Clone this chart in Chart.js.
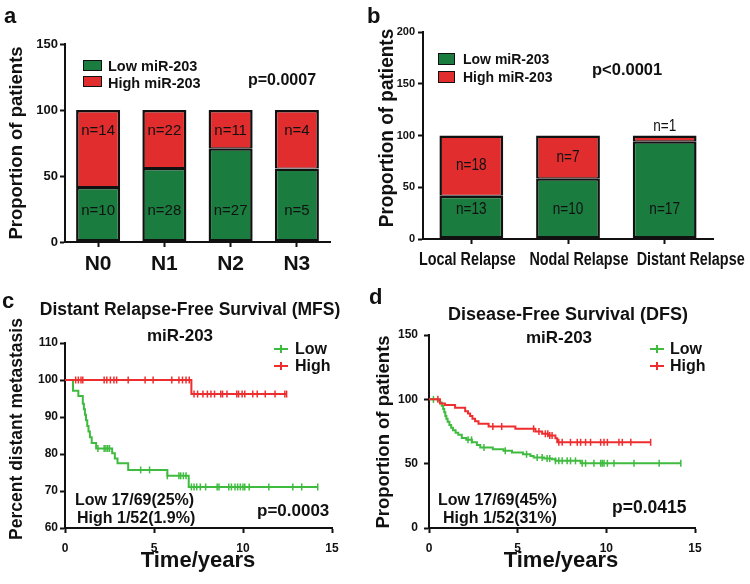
<!DOCTYPE html>
<html><head><meta charset="utf-8">
<script src="https://cdn.jsdelivr.net/npm/chart.js@4.4.1/dist/chart.umd.min.js"></script>
<style>
html,body{margin:0;padding:0;background:#fff;}
body{width:750px;height:584px;position:relative;overflow:hidden;font-family:"Liberation Sans",Arial,sans-serif;}
canvas{position:absolute;}
.t{position:absolute;font-weight:bold;white-space:nowrap;color:#111;line-height:1;}
.lg{position:absolute;height:2px;}
.lg i{position:absolute;left:50%;top:-3px;width:2px;height:8px;margin-left:-1px;background:inherit;}
.bx{position:absolute;border:1.5px solid #111;box-sizing:border-box;}
</style></head><body>
<canvas id="ca" width="375" height="290" style="left:0;top:0"></canvas>
<canvas id="cb" width="375" height="290" style="left:375px;top:0"></canvas>
<canvas id="cc" width="375" height="294" style="left:0;top:290px"></canvas>
<canvas id="cd" width="375" height="294" style="left:375px;top:290px"></canvas>
<script>
// ---------- data ----------
const aCats = ['N0', 'N1', 'N2', 'N3'];
const aLowPct = [41.7, 56.0, 71.1, 55.6];
const aHighPct = [58.3, 44.0, 28.9, 44.4];
const aLowN = [10, 28, 27, 5];
const aHighN = [14, 22, 11, 4];

const bCats = ['Local Relapse', 'Nodal Relapse', 'Distant Relapse'];
const bLowPct = [41.9, 58.8, 94.4];
const bHighPct = [58.1, 41.2, 5.6];
const bLowN = [13, 10, 17];
const bHighN = [18, 7, 1];

// panel c: Distant relapse-free survival (event times / survival after event)
const cLowT = [0.45, 0.75, 1.0, 1.06, 1.12, 1.18, 1.25, 1.32, 1.4, 1.5, 1.75, 2.65, 2.8, 2.95, 3.55, 5.75, 6.95];
const cLowS = [97.1, 95.7, 93.6, 92.1, 90.6, 89.1, 87.6, 86.1, 84.5, 83.0, 81.5, 80.2, 78.8, 77.5, 75.7, 74.1, 71.1];
const cLowCensor = [1.85, 2.2, 2.3, 2.4, 2.5, 4.25, 4.75, 5.75, 6.4, 6.5, 6.65, 6.8, 7.1, 7.25, 7.4, 7.6, 7.9, 8.55, 8.65, 9.2, 9.35, 9.55, 9.7, 9.85, 10.0, 10.1, 10.35, 11.45, 12.8, 13.3];
const cLowEnd = 14.2;
const cHighT = [7.1];
const cHighS = [96.2];
const cHighCensor = [0.6, 0.75, 0.9, 1.0, 2.2, 2.35, 2.55, 2.75, 2.9, 3.55, 4.5, 4.95, 6.0, 6.4, 6.6, 6.8, 6.98, 7.25, 7.45, 7.75, 8.0, 8.2, 8.4, 8.75, 8.85, 9.1, 9.65, 9.75, 9.95, 10.1, 10.55, 10.8, 11.25, 11.8, 12.35];
const cHighEnd = 12.45;

// panel d: Disease-free survival
const dLowT = [0.5, 0.62, 0.72, 0.8, 0.86, 0.92, 0.98, 1.05, 1.15, 1.25, 1.35, 1.5, 1.65, 1.85, 2.1, 2.42, 2.7, 2.89, 3.6, 4.2, 4.68, 5.3, 5.72, 5.9, 6.5, 6.94, 7.13, 8.55];
const dLowS = [99, 97.5, 95, 92.5, 90, 87, 85, 82.5, 80, 78, 76, 74, 72.5, 70, 68.5, 66.6, 64.5, 62.6, 61.3, 60, 58.7, 57.3, 56, 54.8, 54, 53.4, 52.2, 50.3];
const dLowCensor = [0.25, 2.2, 2.4, 3.1, 4.3, 5.5, 6.1, 6.38, 6.66, 6.81, 7.13, 7.32, 7.51, 7.79, 7.98, 8.26, 8.64, 8.83, 9.3, 9.68, 9.77, 9.87, 10.06, 10.43, 11.56, 12.98];
const dLowEnd = 14.2;
const dHighT = [0.62, 0.9, 1.47, 2.04, 2.2, 2.32, 2.45, 2.6, 2.79, 3.36, 4.87, 6.0, 6.38, 6.75, 7.13, 7.23];
const dHighS = [96.8, 95.5, 93.4, 90.8, 89, 87.1, 85, 82.9, 81, 78.9, 77.1, 75, 73.2, 71.8, 69.8, 66.6];
const dHighCensor = [0.5, 3.6, 4.1, 5.9, 6.2, 6.56, 6.7, 6.81, 6.94, 7.32, 7.51, 7.98, 8.36, 8.55, 8.83, 9.11, 9.68, 9.87, 10.06, 10.71, 10.9, 11.38];
const dHighEnd = 12.5;

// ---------- styles ----------
Chart.defaults.devicePixelRatio = 1;
Chart.defaults.animation = false;
const INK = '#111';
const BAR_GREEN = '#1b7c3f';
const BAR_RED = '#e12d2d';
const KM_GREEN = '#3fbb3f';
const KM_RED = '#ee2e2e';
const SANS = '"Liberation Sans", Arial, sans-serif';

function scale(o) {
  const s = {
    type: o.type || 'linear',
    offset: o.offset,
    grid: { display: true, drawOnChartArea: false, drawTicks: true, tickLength: 5, tickColor: INK, tickWidth: 2, offset: false },
    border: { display: true, color: INK, width: 2 },
    ticks: { display: o.hideLabels ? false : true, color: INK, font: o.font, padding: o.pad, maxRotation: 0, autoSkip: false },
    afterFit: o.w ? (sc => { sc.width = o.w; }) : (sc => { sc.height = o.h; })
  };
  if (o.min !== undefined) { s.min = o.min; s.max = o.max; s.ticks.stepSize = o.step; }
  if (o.stacked) s.stacked = true;
  return s;
}

// draws text horizontally condensed by factor sx (for the narrow typeface of the original)
function narrowText(ctx, text, x, y, sx) {
  ctx.save(); ctx.translate(x, y); ctx.scale(sx, 1); ctx.fillText(text, 0, 0); ctx.restore();
}

const barLabels = {
  id: 'barLabels',
  afterDatasetsDraw(chart, args, o) {
    if (!o || !o.font) return;
    const ctx = chart.ctx;
    ctx.save();
    ctx.font = o.font; ctx.fillStyle = INK; ctx.textAlign = 'center'; ctx.textBaseline = 'middle';
    chart.data.datasets.forEach((ds, di) => {
      const meta = chart.getDatasetMeta(di);
      meta.data.forEach((bar, i) => {
        const top = Math.min(bar.y, bar.base), bot = Math.max(bar.y, bar.base);
        let y;
        if (di === 0) y = bot - o.lowOffset;
        else if (bot - top < 20) y = top - o.aboveGap;
        else y = o.highMode === 'center' ? (top + bot) / 2 : top + o.highOffset;
        narrowText(ctx, 'n=' + ds.counts[i], bar.x, y, o.sx);
      });
    });
    ctx.restore();
  },
  afterDraw(chart, args, o) {
    if (!o || !o.catFont) return;
    const ctx = chart.ctx, xs = chart.scales.x;
    ctx.save();
    ctx.font = o.catFont; ctx.fillStyle = INK; ctx.textAlign = 'center'; ctx.textBaseline = 'middle';
    chart.data.labels.forEach((lab, i) => {
      narrowText(ctx, lab, xs.getPixelForTick(i) + o.catShift[i], chart.chartArea.bottom + o.catDy, o.catSx);
    });
    ctx.restore();
  }
};

function barChart(id, cats, lowPct, highPct, lowN, highN, cfg) {
  return new Chart(document.getElementById(id), {
    type: 'bar',
    data: {
      labels: cats,
      datasets: [
        { label: 'Low miR-203', data: lowPct, counts: lowN, backgroundColor: BAR_GREEN, borderColor: INK, borderWidth: 2.5, borderSkipped: false, barPercentage: cfg.barPct, categoryPercentage: 1 },
        { label: 'High miR-203', data: highPct, counts: highN, backgroundColor: BAR_RED, borderColor: INK, borderWidth: { top: 2.5, left: 2.5, right: 2.5, bottom: 1 }, borderSkipped: false, barPercentage: cfg.barPct, categoryPercentage: 1 }
      ]
    },
    options: {
      responsive: false,
      layout: { padding: cfg.padding },
      plugins: { legend: { display: false }, tooltip: { enabled: false }, barLabels: cfg.labels },
      scales: {
        x: scale({ type: 'category', stacked: true, offset: true, font: cfg.xFont, pad: cfg.xPad, h: cfg.xH, hideLabels: cfg.hideX }),
        y: scale({ stacked: true, min: cfg.min, max: cfg.max, step: cfg.step, font: cfg.yFont, pad: cfg.yPad, w: cfg.yW })
      }
    },
    plugins: [barLabels]
  });
}

barChart('ca', aCats, aLowPct, aHighPct, aLowN, aHighN, {
  barPct: 0.665, padding: { left: 0, right: 45, top: 44, bottom: 0 },
  min: 0, max: 150, step: 50, yW: 65, xH: 48,
  yFont: { family: SANS, size: 13, weight: 'bold' }, yPad: 2,
  xFont: { family: SANS, size: 21, weight: 'bold' }, xPad: 5,
  labels: { font: '15px ' + SANS, sx: 1, lowOffset: 31, highOffset: 21, highMode: 'top', aboveGap: 9 }
});

barChart('cb', bCats, bLowPct, bHighPct, bLowN, bHighN, {
  barPct: 0.66, padding: { left: 0, right: 37, top: 32, bottom: 0 },
  min: 0, max: 200, step: 50, yW: 48, xH: 51, hideX: true,
  yFont: { family: SANS, size: 11, weight: 'bold' }, yPad: 3,
  xFont: { family: SANS, size: 19, weight: 'bold' }, xPad: 6,
  labels: { font: '17px ' + SANS, sx: 0.8, lowOffset: 29, highOffset: 21, highMode: 'center', aboveGap: 9,
            catFont: 'bold 18px ' + SANS, catSx: 0.8, catDy: 21, catShift: [-4, 11, 26] }
});

function survAt(times, surv, t) {
  let s = 100;
  for (let i = 0; i < times.length; i++) if (times[i] <= t) s = surv[i];
  return s;
}
function stepPts(times, surv, end) {
  const p = [{ x: 0, y: 100 }];
  times.forEach((t, i) => p.push({ x: t, y: surv[i] }));
  p.push({ x: end, y: survAt(times, surv, end) });
  return p;
}
function censorPts(times, surv, cens, end) {
  return cens.concat([end]).map(t => ({ x: t, y: survAt(times, surv, t) }));
}
function kmChart(id, low, high, cfg) {
  const line = (pts, col, ord) => ({ type: 'line', data: pts, borderColor: col, borderWidth: 2, stepped: true, pointRadius: 0, fill: false, order: ord });
  const ticks = (pts, col, ord) => ({ type: 'line', data: pts, showLine: false, pointStyle: 'line', rotation: 90, pointRadius: 3.5, pointBorderWidth: 1.5, borderColor: col, pointBorderColor: col, backgroundColor: col, order: ord });
  return new Chart(document.getElementById(id), {
    type: 'line',
    data: {
      datasets: [
        ticks(censorPts(high.t, high.s, high.c, high.end), KM_RED, 0),
        line(stepPts(high.t, high.s, high.end), KM_RED, 1),
        ticks(censorPts(low.t, low.s, low.c, low.end), KM_GREEN, 2),
        line(stepPts(low.t, low.s, low.end), KM_GREEN, 3)
      ]
    },
    options: {
      responsive: false,
      layout: { padding: cfg.padding },
      plugins: { legend: { display: false }, tooltip: { enabled: false } },
      scales: {
        x: scale({ min: 0, max: 15, step: 5, font: { family: SANS, size: 12, weight: 'bold' }, pad: 8, h: cfg.xH }),
        y: scale({ min: cfg.min, max: cfg.max, step: cfg.step, font: { family: SANS, size: 12, weight: 'bold' }, pad: cfg.yPad, w: cfg.yW })
      }
    }
  });
}

kmChart('cc',
  { t: cLowT, s: cLowS, c: cLowCensor, end: cLowEnd },
  { t: cHighT, s: cHighS, c: cHighCensor, end: cHighEnd },
  { padding: { left: 0, right: 43, top: 53, bottom: 0 }, xH: 56, yW: 65, min: 60, max: 110, step: 10, yPad: 2 });

kmChart('cd',
  { t: dLowT, s: dLowS, c: dLowCensor, end: dLowEnd },
  { t: dHighT, s: dHighS, c: dHighCensor, end: dHighEnd },
  { padding: { left: 0, right: 55, top: 45, bottom: 0 }, xH: 56, yW: 54, min: 0, max: 150, step: 50, yPad: 6 });

// ---------- text ----------
function T(s, x, y, size, o) {
  o = o || {};
  const d = document.createElement('div');
  d.className = 't';
  d.textContent = s;
  d.style.left = x + 'px'; d.style.top = y + 'px'; d.style.fontSize = size + 'px';
  if (o.normal) d.style.fontWeight = 'normal';
  const a = o.align || 'left';
  const sx = o.sx ? ' scaleX(' + o.sx + ')' : '';
  if (a === 'center') d.style.transform = 'translate(-50%,-50%)' + sx;
  else if (a === 'left') { d.style.transform = 'translateY(-50%)' + sx; d.style.transformOrigin = 'left center'; }
  else if (a === 'rot') d.style.transform = 'translate(-50%,-50%) rotate(-90deg)' + sx;
  document.body.appendChild(d);
  return d;
}
function box(x, y, w, h, col) {
  const d = document.createElement('div'); d.className = 'bx';
  Object.assign(d.style, { left: x + 'px', top: y + 'px', width: w + 'px', height: h + 'px', background: col });
  document.body.appendChild(d);
}
function lg(x, y, w, col) {
  const d = document.createElement('div'); d.className = 'lg';
  Object.assign(d.style, { left: x + 'px', top: (y - 1) + 'px', width: w + 'px', background: col });
  d.appendChild(document.createElement('i'));
  document.body.appendChild(d);
}

// panel letters
T('a', 4, 16, 22);
T('b', 367, 16, 22);
T('c', 2, 301, 22);
T('d', 369, 297, 22);

// panel a
T('Proportion of patients', 16, 143, 18.5, { align: 'rot' });
box(83, 60, 19, 11, BAR_GREEN); T('Low miR-203', 108, 66, 14.5);
box(83, 76, 19, 11, BAR_RED); T('High miR-203', 108, 83, 14.5);
T('p=0.0007', 248, 80, 16);

// panel b
T('Proportion of patients', 386, 128, 20, { align: 'rot', sx: 0.95 });
box(438, 53, 17, 12, BAR_GREEN); T('Low miR-203', 463, 59, 14);
box(438, 71, 17, 12, BAR_RED); T('High miR-203', 463, 77, 14);
T('p<0.0001', 592, 69, 16.5);

// panel c
T('Distant Relapse-Free Survival (MFS)', 190, 310, 17.5, { align: 'center' });
T('miR-203', 180, 335, 17, { align: 'center' });
T('Percent distant metastasis', 17, 429, 17.5, { align: 'rot' });
lg(274, 349, 14, KM_GREEN); T('Low', 295, 349, 16);
lg(274, 366, 14, KM_RED); T('High', 295, 366, 16);
T('Low 17/69(25%)', 75, 500, 16);
T('High 1/52(1.9%)', 77, 518, 16);
T('p=0.0003', 257, 510, 17);
T('Time/years', 198, 560, 22, { align: 'center' });

// panel d
T('Disease-Free Survival (DFS)', 568, 314, 18, { align: 'center' });
T('miR-203', 559, 337, 17, { align: 'center' });
T('Proportion of patients', 383, 432, 18.5, { align: 'rot' });
lg(650, 349, 14, KM_GREEN); T('Low', 670, 349, 16);
lg(650, 366, 14, KM_RED); T('High', 670, 366, 16);
T('Low 17/69(45%)', 438, 500, 16);
T('High 1/52(31%)', 443, 518, 16);
T('p=0.0415', 612, 508, 17.5);
T('Time/years', 561, 560, 22, { align: 'center' });
</script>
</body></html>
